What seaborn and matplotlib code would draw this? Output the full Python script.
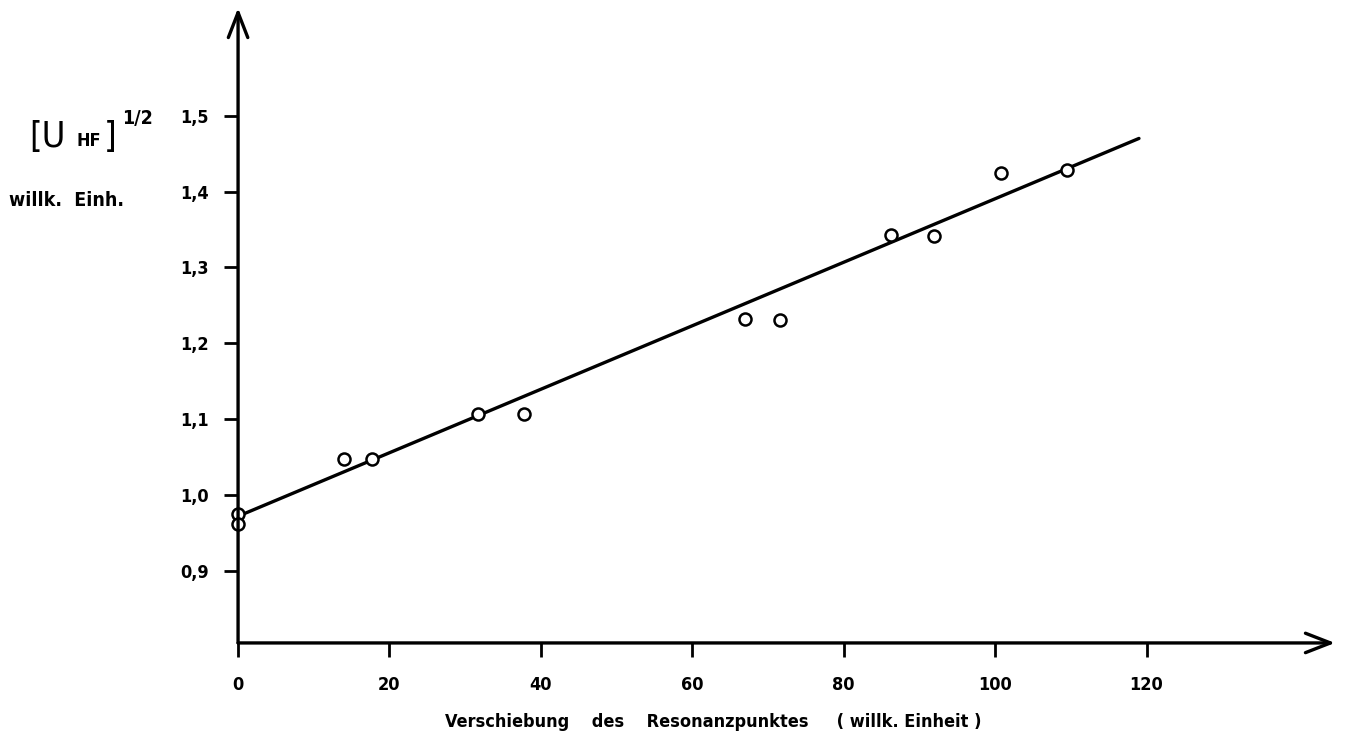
import matplotlib
matplotlib.use("Agg")
import matplotlib.pyplot as plt
import pandas as pd
import seaborn as sns

# values
shift = [0, 0, 14.0, 17.7, 31.7, 37.8, 67.0, 71.6, 86.2, 91.9, 100.8, 109.5]
u_hf = [0.975, 0.962, 1.047, 1.047, 1.107, 1.107, 1.232, 1.231, 1.343, 1.342, 1.425, 1.428]

fit_x = [0, 119]
fit_y = [0.972, 1.470]

x_ticks = [0, 20, 40, 60, 80, 100, 120]
y_ticks = [0.9, 1.0, 1.1, 1.2, 1.3, 1.4, 1.5]
y_ticklabels = ["0,9", "1,0", "1,1", "1,2", "1,3", "1,4", "1,5"]

sns.set_style("ticks")
plt.rcParams["font.family"] = ["Liberation Sans Narrow", "DejaVu Sans"]
plt.rcParams["font.stretch"] = "condensed"
plt.rcParams["font.weight"] = "bold"
plt.rcParams["text.color"] = "black"
plt.rcParams["xtick.color"] = "black"
plt.rcParams["ytick.color"] = "black"

df = pd.DataFrame({"shift": shift, "u": u_hf})
fit_df = pd.DataFrame({"shift": fit_x, "u": fit_y})

fig = plt.figure(figsize=(13.45, 7.42), dpi=100)
ax = fig.add_axes([0.177, 0.1335, 0.8156, 0.8558])

sns.lineplot(data=fit_df, x="shift", y="u", color="black", linewidth=2.4, ax=ax)
sns.scatterplot(data=df, x="shift", y="u", marker="o", s=75,
                facecolor="white", edgecolor="black", linewidth=1.8,
                zorder=3, clip_on=False, ax=ax)

ax.set_xlim(0, 144.9)
ax.set_ylim(0.805, 1.642)
ax.set_xticks(x_ticks)
ax.set_xticklabels([str(t) for t in x_ticks])
ax.set_yticks(y_ticks)
ax.set_yticklabels(y_ticklabels)
ax.set_xlabel("")
ax.set_ylabel("")
ax.tick_params(axis="both", direction="out", length=10, width=2,
               labelsize=13, color="black", labelcolor="black",
               bottom=True, left=True)
ax.tick_params(axis="y", pad=11)
ax.tick_params(axis="x", pad=14)

for s in ax.spines.values():
    s.set_visible(False)

# axes drawn as arrows like the hand drawing
arrow = dict(arrowstyle="->,head_length=0.9,head_width=0.35", lw=2.4,
             color="black", mutation_scale=20, shrinkA=0, shrinkB=0)
ax.annotate("", xy=(1, 0), xytext=(0, 0), xycoords="axes fraction",
            arrowprops=arrow, annotation_clip=False)
ax.annotate("", xy=(0, 1), xytext=(0, 0), xycoords="axes fraction",
            arrowprops=arrow, annotation_clip=False)

# y label pieces
fig.text(0.022, 1 - 137 / 742, "[U", fontsize=26, va="center", ha="left",
         fontweight="normal")
fig.text(0.057, 1 - 141 / 742, "HF", fontsize=13, va="center", ha="left")
fig.text(0.077, 1 - 137 / 742, "]", fontsize=26, va="center", ha="left",
         fontweight="normal")
fig.text(0.091, 1 - 118 / 742, "1/2", fontsize=14, va="center", ha="left")
fig.text(0.007, 1 - 200 / 742, "willk.  Einh.", fontsize=14, va="center", ha="left")

fig.text(0.530, 1 - 722 / 742,
         "Verschiebung    des    Resonanzpunktes     ( willk. Einheit )",
         fontsize=13, va="center", ha="center")

fig.savefig("out.png", dpi=100)
